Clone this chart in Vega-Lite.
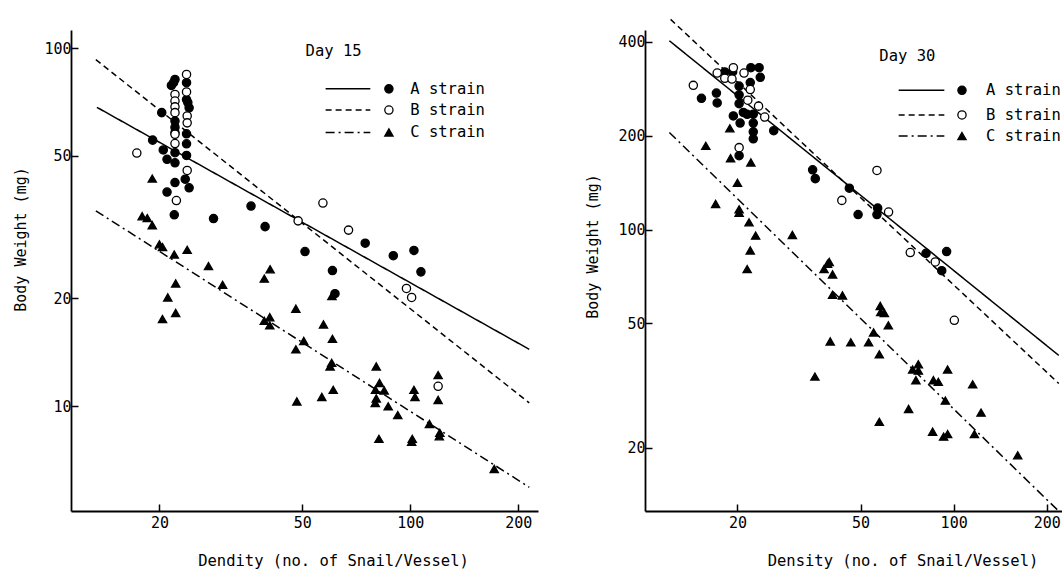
{
  "$schema": "https://vega.github.io/schema/vega-lite/v6.json",
  "background": "white",
  "padding": {"left": 13, "top": 16, "right": 0, "bottom": 0},
  "bounds": "flush",
  "spacing": 107,
  "config": {
    "view": {"stroke": null},
    "axis": {
      "domainColor": "black", "domainWidth": 1.8,
      "tickColor": "black", "tickWidth": 1.5, "tickSize": -7,
      "labelFont": "DejaVu Sans Mono", "labelFontSize": 15, "labelColor": "black",
      "titleFont": "DejaVu Sans Mono", "titleFontSize": 15, "titleFontWeight": "normal", "titleColor": "black",
      "titleBaseline": "middle", "titleAlign": "center",
      "grid": false, "labelFlush": false, "labelOverlap": false
    },
    "axisX": {"labelPadding": 11, "titleFontSize": 15.5},
    "axisY": {"labelPadding": 7}
  },
  "datasets": {
    "d15": [
      {"strain":"A","density":20.3,"weight":66.0},{"strain":"A","density":19.15,"weight":55.3},{"strain":"A","density":20.5,"weight":51.9},
      {"strain":"A","density":21.0,"weight":48.9},{"strain":"A","density":21.0,"weight":39.6},{"strain":"A","density":22.0,"weight":34.2},
      {"strain":"A","density":22.1,"weight":81.7},{"strain":"A","density":21.9,"weight":80.0},{"strain":"A","density":21.6,"weight":78.6},
      {"strain":"A","density":22.1,"weight":62.5},{"strain":"A","density":22.1,"weight":60.0},{"strain":"A","density":22.1,"weight":58.0},
      {"strain":"A","density":22.1,"weight":51.0},{"strain":"A","density":22.1,"weight":47.8},{"strain":"A","density":22.1,"weight":42.1},
      {"strain":"A","density":23.8,"weight":80.0},{"strain":"A","density":23.8,"weight":71.8},{"strain":"A","density":24.0,"weight":70.4},
      {"strain":"A","density":24.2,"weight":68.1},{"strain":"A","density":23.8,"weight":57.6},{"strain":"A","density":23.8,"weight":54.0},
      {"strain":"A","density":23.8,"weight":50.1},{"strain":"A","density":23.6,"weight":43.0},{"strain":"A","density":24.2,"weight":40.7},
      {"strain":"A","density":28.3,"weight":33.4},{"strain":"A","density":36.0,"weight":36.2},{"strain":"A","density":39.4,"weight":31.7},
      {"strain":"A","density":50.9,"weight":27.0},{"strain":"A","density":60.7,"weight":23.9},{"strain":"A","density":61.7,"weight":20.6},
      {"strain":"A","density":74.9,"weight":28.5},{"strain":"A","density":89.7,"weight":26.3},{"strain":"A","density":102.4,"weight":27.2},
      {"strain":"A","density":107.1,"weight":23.7},
      {"strain":"B","density":17.3,"weight":50.9},{"strain":"B","density":22.1,"weight":74.2},{"strain":"B","density":22.1,"weight":71.1},
      {"strain":"B","density":22.1,"weight":68.5},{"strain":"B","density":22.1,"weight":66.0},{"strain":"B","density":22.1,"weight":57.4},
      {"strain":"B","density":22.1,"weight":54.1},{"strain":"B","density":22.3,"weight":37.5},{"strain":"B","density":23.8,"weight":84.4},
      {"strain":"B","density":23.8,"weight":75.4},{"strain":"B","density":23.9,"weight":64.6},{"strain":"B","density":23.9,"weight":61.8},
      {"strain":"B","density":23.9,"weight":45.5},{"strain":"B","density":48.7,"weight":32.9},{"strain":"B","density":57.1,"weight":36.9},
      {"strain":"B","density":67.3,"weight":31.0},{"strain":"B","density":97.6,"weight":21.3},{"strain":"B","density":100.9,"weight":20.1},
      {"strain":"B","density":119.6,"weight":11.35},
      {"strain":"C","density":19.1,"weight":43.2},{"strain":"C","density":17.9,"weight":33.9},{"strain":"C","density":18.5,"weight":33.5},
      {"strain":"C","density":19.1,"weight":32.0},{"strain":"C","density":20.0,"weight":28.3},{"strain":"C","density":20.4,"weight":27.8},
      {"strain":"C","density":22.0,"weight":26.5},{"strain":"C","density":23.9,"weight":27.3},{"strain":"C","density":22.2,"weight":22.0},
      {"strain":"C","density":21.1,"weight":20.1},{"strain":"C","density":20.4,"weight":17.5},{"strain":"C","density":22.2,"weight":18.2},
      {"strain":"C","density":27.4,"weight":24.6},{"strain":"C","density":30.0,"weight":21.8},{"strain":"C","density":39.2,"weight":22.7},
      {"strain":"C","density":40.7,"weight":24.1},{"strain":"C","density":39.2,"weight":17.3},{"strain":"C","density":40.6,"weight":17.7},
      {"strain":"C","density":40.6,"weight":16.8},{"strain":"C","density":48.0,"weight":18.7},{"strain":"C","density":50.5,"weight":15.2},
      {"strain":"C","density":48.0,"weight":14.4},{"strain":"C","density":48.3,"weight":10.3},{"strain":"C","density":57.3,"weight":16.9},
      {"strain":"C","density":60.7,"weight":15.4},{"strain":"C","density":60.4,"weight":13.2},{"strain":"C","density":59.8,"weight":12.9},
      {"strain":"C","density":61.0,"weight":11.1},{"strain":"C","density":56.7,"weight":10.6},{"strain":"C","density":60.5,"weight":20.3},
      {"strain":"C","density":80.4,"weight":12.9},{"strain":"C","density":82.1,"weight":11.6},{"strain":"C","density":80.0,"weight":11.1},
      {"strain":"C","density":84.6,"weight":11.05},{"strain":"C","density":80.4,"weight":10.5},{"strain":"C","density":79.9,"weight":10.2},
      {"strain":"C","density":86.8,"weight":9.98},{"strain":"C","density":92.3,"weight":9.43},{"strain":"C","density":81.8,"weight":8.1},
      {"strain":"C","density":101.3,"weight":8.1},{"strain":"C","density":100.9,"weight":7.94},{"strain":"C","density":102.4,"weight":11.1},
      {"strain":"C","density":103.1,"weight":10.6},{"strain":"C","density":113.1,"weight":8.91},{"strain":"C","density":119.6,"weight":12.2},
      {"strain":"C","density":119.6,"weight":10.4},{"strain":"C","density":120.9,"weight":8.42},{"strain":"C","density":120.5,"weight":8.23},
      {"strain":"C","density":171.4,"weight":6.67}
    ],
    "fit15": [
      {"strain":"A","density":13.39,"weight":68.3},{"strain":"A","density":214.6,"weight":14.4},
      {"strain":"B","density":13.3,"weight":92.8},{"strain":"B","density":214.6,"weight":10.2},
      {"strain":"C","density":13.3,"weight":35.1},{"strain":"C","density":214.6,"weight":5.93}
    ],
    "legline15": [
      {"strain":"A","density":58.1,"weight":76.9},{"strain":"A","density":77.4,"weight":76.9},
      {"strain":"B","density":58.1,"weight":67.1},{"strain":"B","density":77.4,"weight":67.1},
      {"strain":"C","density":58.1,"weight":58.1},{"strain":"C","density":77.4,"weight":58.1}
    ],
    "legpt15": [
      {"strain":"A","density":87.2,"weight":76.9},{"strain":"B","density":87.2,"weight":67.1},{"strain":"C","density":87.2,"weight":58.1}
    ],
    "lab15": [
      {"label":"A strain","density":100,"weight":76.9},{"label":"B strain","density":100,"weight":67.1},
      {"label":"C strain","density":100,"weight":58.1},{"label":"Day 15","density":51.1,"weight":97.8}
    ],
    "d30": [
      {"strain":"A","density":15.3,"weight":263.3},{"strain":"A","density":17.1,"weight":273.7},{"strain":"A","density":17.2,"weight":254.5},
      {"strain":"A","density":18.2,"weight":319.9},{"strain":"A","density":19.3,"weight":319.9},{"strain":"A","density":19.4,"weight":231.2},
      {"strain":"A","density":20.25,"weight":288.3},{"strain":"A","density":20.25,"weight":270.2},{"strain":"A","density":20.25,"weight":253.2},
      {"strain":"A","density":20.4,"weight":219.5},{"strain":"A","density":20.25,"weight":172.4},{"strain":"A","density":20.9,"weight":237.2},
      {"strain":"A","density":22.1,"weight":330.0},{"strain":"A","density":22.0,"weight":295.9},{"strain":"A","density":23.5,"weight":330.0},
      {"strain":"A","density":23.7,"weight":307.6},{"strain":"A","density":22.5,"weight":234.2},{"strain":"A","density":22.5,"weight":219.5},
      {"strain":"A","density":22.5,"weight":205.6},{"strain":"A","density":22.5,"weight":195.3},{"strain":"A","density":21.5,"weight":234.0},
      {"strain":"A","density":26.2,"weight":207.3},{"strain":"A","density":35.0,"weight":155.4},{"strain":"A","density":35.7,"weight":145.6},
      {"strain":"A","density":46.0,"weight":135.7},{"strain":"A","density":49.1,"weight":111.7},{"strain":"A","density":56.8,"weight":117.1},
      {"strain":"A","density":56.5,"weight":111.7},{"strain":"A","density":81.4,"weight":83.9},{"strain":"A","density":94.9,"weight":85.0},
      {"strain":"A","density":91.5,"weight":73.8},
      {"strain":"B","density":14.4,"weight":289.8},{"strain":"B","density":17.2,"weight":317.4},{"strain":"B","density":18.2,"weight":305.3},
      {"strain":"B","density":19.4,"weight":330.0},{"strain":"B","density":19.2,"weight":303.7},{"strain":"B","density":21.0,"weight":317.4},
      {"strain":"B","density":22.0,"weight":281.0},{"strain":"B","density":21.6,"weight":259.8},{"strain":"B","density":23.4,"weight":248.6},
      {"strain":"B","density":24.5,"weight":229.4},{"strain":"B","density":20.25,"weight":183.0},{"strain":"B","density":43.5,"weight":124.0},
      {"strain":"B","density":56.5,"weight":154.6},{"strain":"B","density":61.6,"weight":113.8},{"strain":"B","density":72.4,"weight":84.4},
      {"strain":"B","density":87.2,"weight":78.7},{"strain":"B","density":100.5,"weight":51.2},
      {"strain":"C","density":15.8,"weight":185.4},{"strain":"C","density":18.9,"weight":211.1},{"strain":"C","density":19.0,"weight":169.3},
      {"strain":"C","density":22.1,"weight":164.1},{"strain":"C","density":20.0,"weight":141.1},{"strain":"C","density":17.0,"weight":120.8},
      {"strain":"C","density":20.25,"weight":116.1},{"strain":"C","density":20.25,"weight":113.2},{"strain":"C","density":21.8,"weight":105.5},
      {"strain":"C","density":22.9,"weight":95.6},{"strain":"C","density":22.0,"weight":85.7},{"strain":"C","density":21.5,"weight":74.7},
      {"strain":"C","density":30.1,"weight":96.1},{"strain":"C","density":38.1,"weight":74.7},{"strain":"C","density":39.6,"weight":78.7},
      {"strain":"C","density":39.1,"weight":77.6},{"strain":"C","density":40.6,"weight":71.8},{"strain":"C","density":40.6,"weight":61.8},
      {"strain":"C","density":43.7,"weight":61.5},{"strain":"C","density":57.9,"weight":56.9},{"strain":"C","density":58.1,"weight":54.4},
      {"strain":"C","density":59.7,"weight":54.0},{"strain":"C","density":61.5,"weight":49.3},{"strain":"C","density":55.1,"weight":46.8},
      {"strain":"C","density":53.1,"weight":43.5},{"strain":"C","density":46.5,"weight":43.5},{"strain":"C","density":39.9,"weight":43.8},
      {"strain":"C","density":35.6,"weight":33.8},{"strain":"C","density":57.5,"weight":39.8},{"strain":"C","density":57.5,"weight":24.2},
      {"strain":"C","density":71.5,"weight":26.6},{"strain":"C","density":73.7,"weight":35.6},{"strain":"C","density":76.9,"weight":37.0},
      {"strain":"C","density":76.9,"weight":35.3},{"strain":"C","density":75.5,"weight":32.9},{"strain":"C","density":86.0,"weight":32.9},
      {"strain":"C","density":89.2,"weight":32.5},{"strain":"C","density":95.6,"weight":35.6},{"strain":"C","density":94.0,"weight":28.3},
      {"strain":"C","density":85.5,"weight":22.5},{"strain":"C","density":92.8,"weight":21.7},{"strain":"C","density":95.6,"weight":22.1},
      {"strain":"C","density":115.2,"weight":31.9},{"strain":"C","density":122.6,"weight":25.9},{"strain":"C","density":116.7,"weight":22.1},
      {"strain":"C","density":161.1,"weight":18.9}
    ],
    "fit30": [
      {"strain":"A","density":12.05,"weight":402.7},{"strain":"A","density":218.7,"weight":39.5},
      {"strain":"B","density":12.16,"weight":471.6},{"strain":"B","density":218.7,"weight":32.1},
      {"strain":"C","density":12.05,"weight":204.7},{"strain":"C","density":217.1,"weight":12.6}
    ],
    "legline30": [
      {"strain":"A","density":66.4,"weight":279.5},{"strain":"A","density":93.3,"weight":279.5},
      {"strain":"B","density":66.4,"weight":233.0},{"strain":"B","density":93.3,"weight":233.0},
      {"strain":"C","density":66.4,"weight":199.4},{"strain":"C","density":93.3,"weight":199.4}
    ],
    "legpt30": [
      {"strain":"A","density":106.4,"weight":279.5},{"strain":"B","density":106.4,"weight":233.0},{"strain":"C","density":106.4,"weight":199.4}
    ],
    "lab30": [
      {"label":"A strain","density":127.3,"weight":279.5},{"label":"B strain","density":127.3,"weight":233.0},
      {"label":"C strain","density":127.3,"weight":199.4},{"label":"Day 30","density":57.5,"weight":359.5}
    ]
  },
  "hconcat": [
    {
      "width": 467, "height": 481,
      "encoding": {
        "x": {"field": "density", "type": "quantitative",
              "scale": {"type": "log", "domain": [11.34, 227], "nice": false},
              "axis": {"values": [20, 50, 100, 200], "format": "d", "title": "Dendity (no. of Snail/Vessel)", "titleX": 262, "titleY": 49}},
        "y": {"field": "weight", "type": "quantitative",
              "scale": {"type": "log", "domain": [5.09, 112.3], "nice": false},
              "axis": {"values": [10, 20, 50, 100], "format": "d", "title": "Body Weight (mg)", "titleX": -51, "titleY": 209}}
      },
      "layer": [
        {"data": {"name": "fit15"}, "mark": {"type": "line", "color": "black", "strokeWidth": 1.5},
         "encoding": {"detail": {"field": "strain"},
           "strokeDash": {"field": "strain", "type": "nominal", "scale": {"domain": ["A","B","C"], "range": [[1,0],[6,4],[9,4,2,4]]}, "legend": null}}},
        {"data": {"name": "legline15"}, "mark": {"type": "line", "color": "black", "strokeWidth": 1.5},
         "encoding": {"detail": {"field": "strain"},
           "strokeDash": {"field": "strain", "type": "nominal", "scale": {"domain": ["A","B","C"], "range": [[1,0],[6,4],[9,4,2,4]]}, "legend": null}}},
        {"data": {"name": "d15"}, "mark": {"type": "point", "filled": true, "stroke": "black", "strokeWidth": 1.3, "opacity": 1, "size": 68},
         "encoding": {
           "shape": {"field": "strain", "type": "nominal", "scale": {"domain": ["A","B","C"], "range": ["circle","circle","triangle-up"]}, "legend": null},
           "fill": {"field": "strain", "type": "nominal", "scale": {"domain": ["A","B","C"], "range": ["black","white","black"]}, "legend": null}}},
        {"data": {"name": "legpt15"}, "mark": {"type": "point", "filled": true, "stroke": "black", "strokeWidth": 1.3, "opacity": 1, "size": 68},
         "encoding": {
           "shape": {"field": "strain", "type": "nominal", "scale": {"domain": ["A","B","C"], "range": ["circle","circle","triangle-up"]}, "legend": null},
           "fill": {"field": "strain", "type": "nominal", "scale": {"domain": ["A","B","C"], "range": ["black","white","black"]}, "legend": null}}},
        {"data": {"name": "lab15"}, "mark": {"type": "text", "align": "left", "baseline": "middle", "font": "DejaVu Sans Mono", "fontSize": 15.5, "color": "black"},
         "encoding": {"text": {"field": "label"}}}
      ]
    },
    {
      "width": 417, "height": 481,
      "encoding": {
        "x": {"field": "density", "type": "quantitative",
              "scale": {"type": "log", "domain": [10.05, 224], "nice": false},
              "axis": {"values": [20, 50, 100, 200], "format": "d", "title": "Density (no. of Snail/Vessel)", "titleX": 257.5, "titleY": 49}},
        "y": {"field": "weight", "type": "quantitative",
              "scale": {"type": "log", "domain": [12.53, 436], "nice": false},
              "axis": {"values": [20, 50, 100, 200, 400], "format": "d", "title": "Body Weight (mg)", "titleX": -52.7, "titleY": 216}}
      },
      "layer": [
        {"data": {"name": "fit30"}, "mark": {"type": "line", "color": "black", "strokeWidth": 1.5},
         "encoding": {"detail": {"field": "strain"},
           "strokeDash": {"field": "strain", "type": "nominal", "scale": {"domain": ["A","B","C"], "range": [[1,0],[6,4],[9,4,2,4]]}, "legend": null}}},
        {"data": {"name": "legline30"}, "mark": {"type": "line", "color": "black", "strokeWidth": 1.5},
         "encoding": {"detail": {"field": "strain"},
           "strokeDash": {"field": "strain", "type": "nominal", "scale": {"domain": ["A","B","C"], "range": [[1,0],[6,4],[9,4,2,4]]}, "legend": null}}},
        {"data": {"name": "d30"}, "mark": {"type": "point", "filled": true, "stroke": "black", "strokeWidth": 1.3, "opacity": 1, "size": 68},
         "encoding": {
           "shape": {"field": "strain", "type": "nominal", "scale": {"domain": ["A","B","C"], "range": ["circle","circle","triangle-up"]}, "legend": null},
           "fill": {"field": "strain", "type": "nominal", "scale": {"domain": ["A","B","C"], "range": ["black","white","black"]}, "legend": null}}},
        {"data": {"name": "legpt30"}, "mark": {"type": "point", "filled": true, "stroke": "black", "strokeWidth": 1.3, "opacity": 1, "size": 68},
         "encoding": {
           "shape": {"field": "strain", "type": "nominal", "scale": {"domain": ["A","B","C"], "range": ["circle","circle","triangle-up"]}, "legend": null},
           "fill": {"field": "strain", "type": "nominal", "scale": {"domain": ["A","B","C"], "range": ["black","white","black"]}, "legend": null}}},
        {"data": {"name": "lab30"}, "mark": {"type": "text", "align": "left", "baseline": "middle", "font": "DejaVu Sans Mono", "fontSize": 15.5, "color": "black"},
         "encoding": {"text": {"field": "label"}}}
      ]
    }
  ]
}
